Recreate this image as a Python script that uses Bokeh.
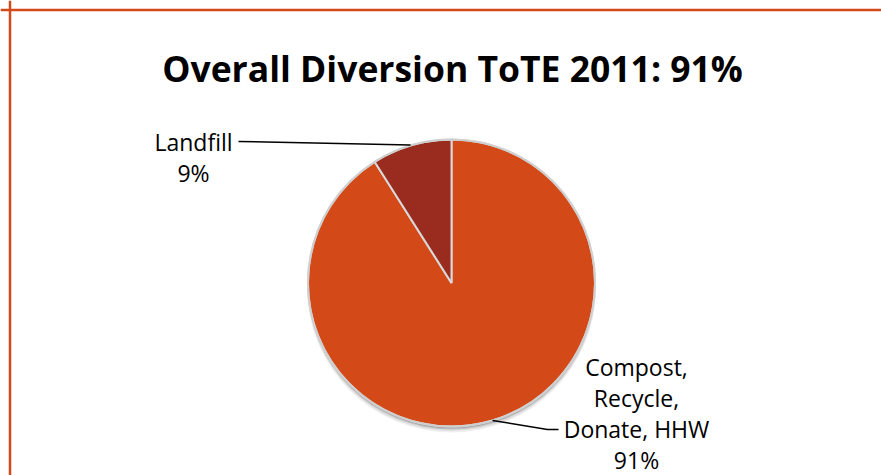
from bokeh.plotting import figure
from bokeh.models import Range1d, Span, ColumnDataSource
from bokeh.core.properties import value
from bokeh.embed import file_html
from bokeh.resources import INLINE
import math

# ---- data ----
title_text = "Overall Diversion ToTE 2011: 91%"
categories = ["Compost, Recycle, Donate, HHW", "Landfill"]
values = [91, 9]
label_lines = [["Compost,", "Recycle,", "Donate, HHW"], ["Landfill"]]
colors = ["#D34A18", "#9A2C1F"]

W, H = 881, 475
FONT = "Open Sans"

p = figure(width=W, height=H, output_backend="svg", toolbar_location=None,
           x_range=Range1d(0, W), y_range=Range1d(0, H), min_border=0)
p.axis.visible = False
p.grid.visible = False
p.outline_line_color = None
p.background_fill_color = "white"
p.border_fill_color = "white"

def Y(py):  # page pixel -> data y
    return H - py

# chart border (orange)
p.add_layout(Span(location=Y(9.5), dimension="width", line_color="#D24A1A", line_width=2.5))
p.add_layout(Span(location=9.5, dimension="height", line_color="#D24A1A", line_width=2.5))

# title
p.text(x=[452], y=[Y(67)], text=[title_text], text_font=value(FONT), text_font_style="bold",
       text_font_size="35.5px", text_align="center", text_baseline="alphabetic", text_color="black")

cx, cy, r = 451, Y(282.5), 143.5

# shadow
for dy, dr, a in [(5, 1.0, 0.06), (4, 0.5, 0.08), (3, 0.0, 0.12), (2, 0.0, 0.15)]:
    p.circle(x=[cx], y=[cy - dy], radius=r + dr, fill_color="black", fill_alpha=a, line_color=None)

# wedges: start at 12 o'clock, go clockwise
total = sum(values)
starts, ends = [], []
cum = 0.0
for v in values:
    starts.append(math.radians(90 - 360 * cum / total))
    cum += v
    ends.append(math.radians(90 - 360 * cum / total))
src = ColumnDataSource(dict(start=starts, end=ends, color=colors, cat=categories, val=values))
p.wedge(x=cx, y=cy, radius=r, start_angle="start", end_angle="end", direction="clock",
        fill_color="color", line_color="#D8D8D8", line_width=2, source=src)
p.circle(x=[cx], y=[cy], radius=r, fill_color=None, line_color="#CFCFCF", line_width=2)

# labels
pct = [f"{round(100 * v / total)}%" for v in values]
label_pos = [(636, 366), (193, 141.7)]
line_h = 31
for lines, pc, (lx, ly) in zip(label_lines, pct, label_pos):
    all_lines = lines + [pc]
    p.text(x=[lx] * len(all_lines), y=[Y(ly + i * line_h) for i in range(len(all_lines))],
           text=all_lines, text_font=value(FONT), text_font_size="23px",
           text_align="center", text_baseline="alphabetic", text_color="black")

# leader lines
p.line(x=[238, 410], y=[Y(141), Y(144.5)], line_color="black", line_width=1.5)
p.line(x=[492, 547, 558], y=[Y(420), Y(429), Y(429)], line_color="black", line_width=1.5)

open("out.html", "w").write(file_html(p, INLINE))
